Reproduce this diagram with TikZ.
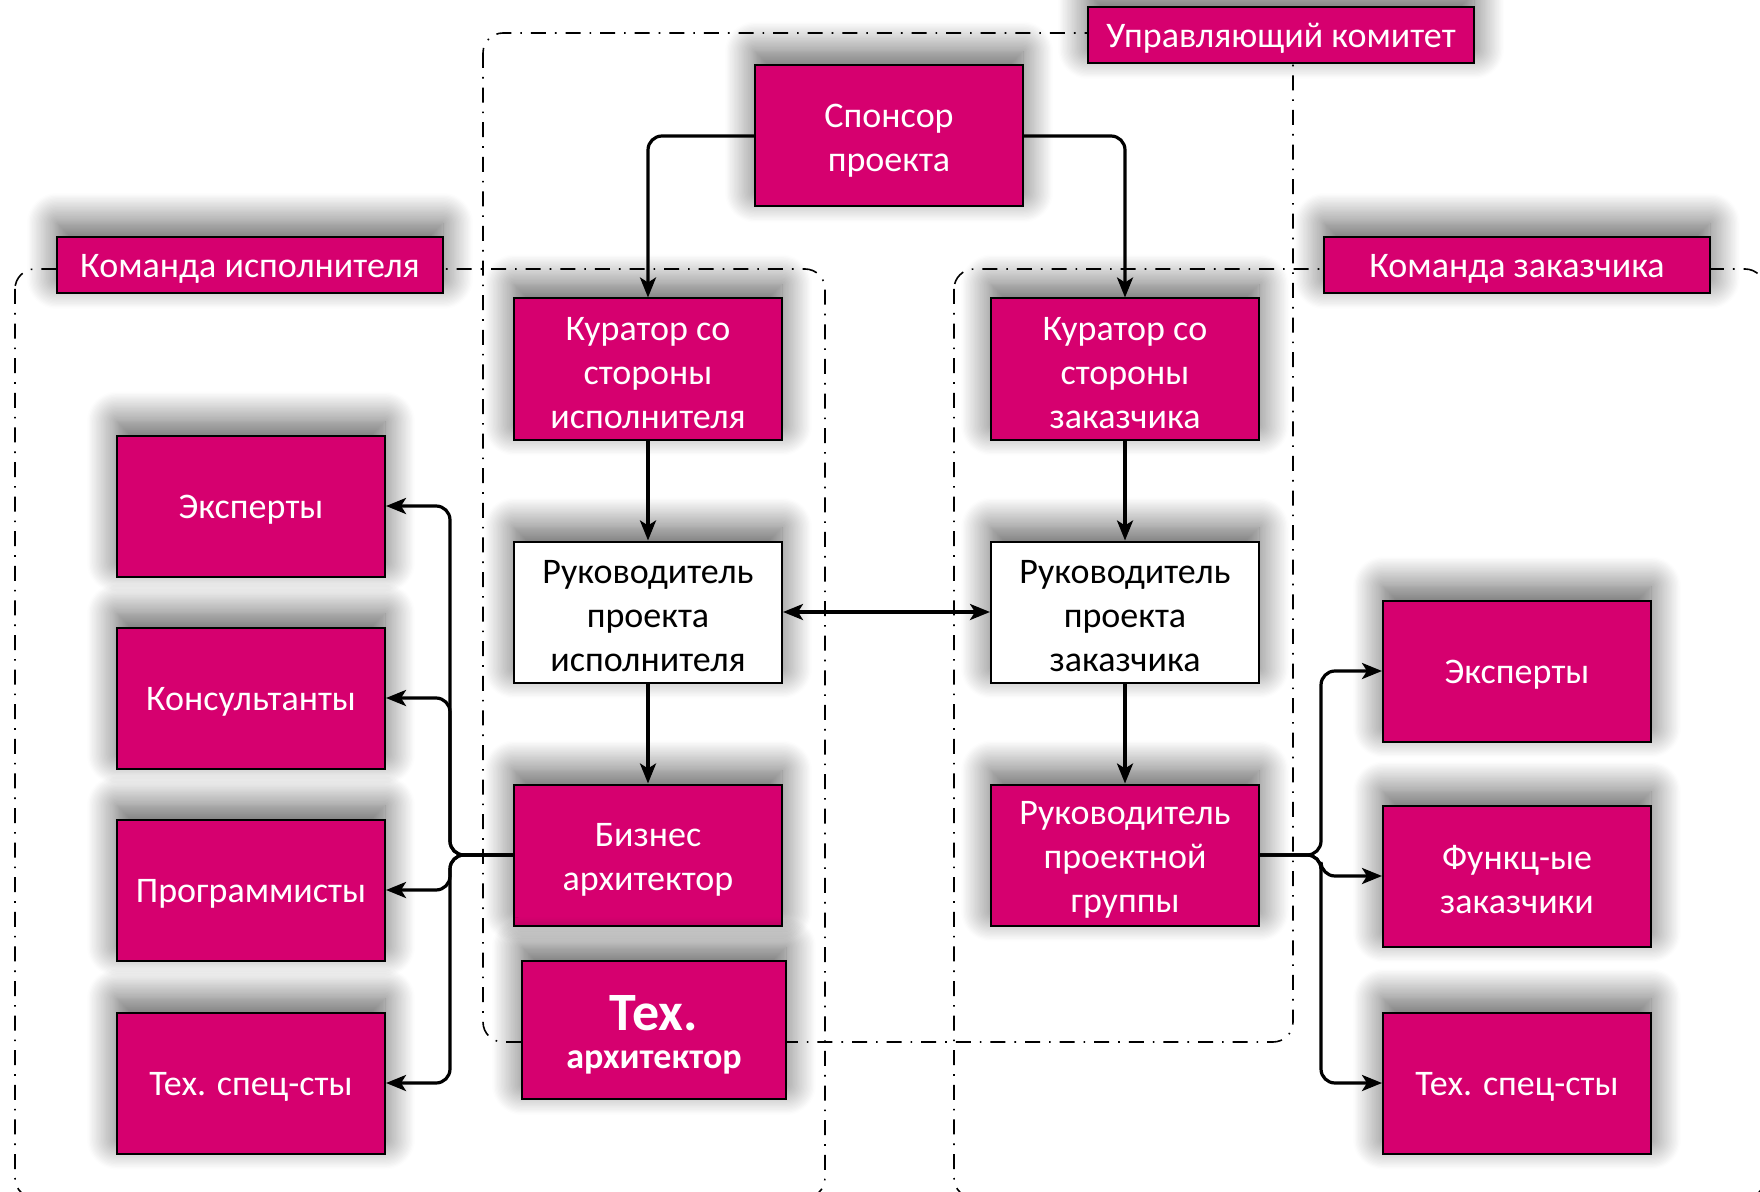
\documentclass[tikz,border=0pt]{standalone}
\usepackage{fontspec}
\setmainfont{Carlito}
\usetikzlibrary{arrows.meta,shadows.blur}
\definecolor{rosebox}{RGB}{214,0,111}
\newcommand{\firstline}{\rule{0pt}{16pt}}
\tikzset{
	>={Stealth[length=10pt,width=8pt,inset=2.5pt]},
	box/.style={draw=black, line width=1pt, fill=rosebox, text=white, align=center,
		minimum width=134pt, minimum height=70.5pt, inner sep=2pt,
		font=\fontsize{18}{22}\selectfont,
		execute at begin node={\rule{0pt}{15pt}},
		blur shadow={shadow xshift=0pt, shadow yshift=7pt, shadow blur radius=15pt,
			shadow opacity=65, shadow blur steps=24}},
	whitebox/.style={box, fill=white, text=black},
	teamlabel/.style={box, minimum width=193pt, minimum height=28pt},
	region/.style={line width=0.8pt, dash pattern=on 7.5pt off 4.5pt on 0.8pt off 4.5pt, rounded corners=10pt},
	link/.style={line width=1.6pt, rounded corners=7pt},
}

\begin{document}
\begin{tikzpicture}[x=0.5pt, y=-0.5pt]
			%%%%% START %%%%%
			\useasboundingbox (0, 0) rectangle (1760, 1192);
			\clip (0, 0) rectangle (1760, 1192);
			
			% regions
			\draw[region] (483, 33) rectangle (1293, 1042);
			\draw[region] (15, 269) rectangle (825, 1198);
			\draw[region] (954, 269) rectangle (1765, 1198);
			
			% labels of the regions
			\node[teamlabel] (committee) at (1281, 35) {Управляющий комитет};
			\node[teamlabel] (teamexe) at (250, 265) {Команда исполнителя};
			\node[teamlabel] (teamcus) at (1517, 265) {Команда заказчика};
			
			% middle column
			\node[box] (sponsor) at (889, 136) {\firstline Спонсор\\проекта};
			\node[box] (curexe) at (648, 369) {\firstline Куратор со\\стороны\\исполнителя};
			\node[box] (curcus) at (1125, 369) {\firstline Куратор со\\стороны\\заказчика};
			\node[whitebox] (pmexe) at (648, 612) {\firstline Руководитель\\проекта\\исполнителя};
			\node[whitebox] (pmcus) at (1125, 612) {\firstline Руководитель\\проекта\\заказчика};
			\node[box] (bizarch) at (648, 855) {\firstline Бизнес\\архитектор};
			\node[box] (pmgroup) at (1125, 855) {\firstline Руководитель\\проектной\\группы};
			\node[box, minimum width=132pt, minimum height=69pt] (techarch) at (654, 1030)
				{\rule{0pt}{22.5pt}{\fontsize{27}{27}\selectfont\bfseries Тех.}\\[-3pt]\bfseries архитектор};
			
			% executor side
			\node[box] (lexp) at (251, 506) {Эксперты};
			\node[box] (lcons) at (251, 698) {Консультанты};
			\node[box] (lprog) at (251, 890) {Программисты};
			\node[box] (ltech) at (251, 1083) {Тех. спец-сты};
			
			% customer side
			\node[box] (rexp) at (1517, 671) {Эксперты};
			\node[box] (rfunc) at (1517, 876) {\firstline Функц-ые\\заказчики};
			\node[box] (rtech) at (1517, 1083) {Тех. спец-сты};
			
			\coordinate (lbus) at (450, 855);
			\coordinate (rbus) at (1321, 855);
			
			% connectors
			\draw[link, ->] (sponsor.west) -| (curexe.north);
			\draw[link, ->] (sponsor.east) -| (curcus.north);
			\draw[link, ->] (curexe) -- (pmexe);
			\draw[link, ->] (curcus) -- (pmcus);
			\draw[link, ->] (pmexe) -- (bizarch);
			\draw[link, ->] (pmcus) -- (pmgroup);
			\draw[link, <->] (pmexe) -- (pmcus);
			
			\draw[link, ->] (bizarch.west) -- (lbus) |- (lexp.east);
			\draw[link, ->] (bizarch.west) -- (lbus) |- (lcons.east);
			\draw[link, ->] (bizarch.west) -- (lbus) |- (lprog.east);
			\draw[link, ->] (bizarch.west) -- (lbus) |- (ltech.east);
			
			\draw[link, ->] (pmgroup.east) -- (rbus) |- (rexp.west);
			\draw[link, ->] (pmgroup.east) -- (rbus) |- (rfunc.west);
			\draw[link, ->] (pmgroup.east) -- (rbus) |- (rtech.west);
			
			%%%%% END %%%%%
\end{tikzpicture}
\end{document}
